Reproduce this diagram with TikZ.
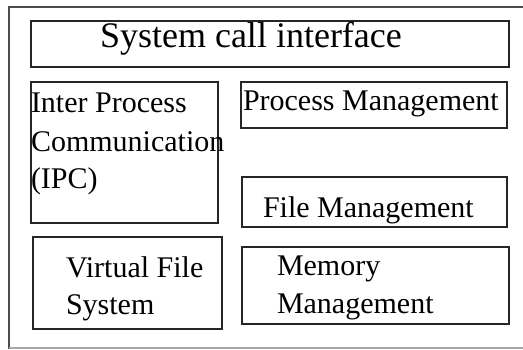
\documentclass[tikz,border=0pt]{standalone}
\usepackage{fontspec}
\setmainfont{Liberation Serif}
% one unit = one pixel, y grows downwards
\newcommand{\pxbox}[5]{%
  \node[box, minimum width={(#4-#2)*0.75pt}, minimum height={(#5-#3)*0.75pt}]
    (#1) at (#2,#3) {};}
\begin{document}
\begin{tikzpicture}[x=0.75pt, y=-0.75pt,
  box/.style={draw=black!85, line width=1.1pt, anchor=north west,
    inner sep=0pt, outer sep=0pt},
  frame/.style={draw=black!70, line width=1.1pt},
  txt/.style={anchor=base west, inner sep=0pt, outer sep=0pt,
    font=\fontsize{22.5pt}{27pt}\selectfont},
  title/.style={anchor=base west, inner sep=0pt, outer sep=0pt,
    font=\fontsize{27pt}{32pt}\selectfont}]
\useasboundingbox (0,0) rectangle (523,349);
% outer frame, open to the right
\coordinate (fa) at (523,7);
\coordinate (fb) at (9,7);
\coordinate (fc) at (9,348);
\coordinate (fd) at (523,348);
\draw[frame] (fa) -- (fb) -- (fc) -- (fd);
\draw[frame, draw=black!35] (fc) -- (fd);
% boxes
\pxbox{sci}{31}{21}{509}{67}
\pxbox{ipc}{31}{82}{218}{223}
\pxbox{pm}{241}{82}{507}{128}
\pxbox{fm}{242}{177}{507}{227}
\pxbox{vfs}{33}{237}{222}{329}
\pxbox{mm}{242}{247}{509}{324}
% labels
\node[title] (tsci) at (100,48) {System call interface};
\node[txt] (tipc1) at (31,113) {Inter Process};
\node[txt] (tipc2) at (31,151) {Communication};
\node[txt] (tipc3) at (31,188) {(IPC)};
\node[txt] (tpm) at (243,111) {Process Management};
\node[txt] (tfm) at (263,217) {File Management};
\node[txt] (tvfs1) at (66,277) {Virtual File};
\node[txt] (tvfs2) at (66,314) {System};
\node[txt] (tmm1) at (277,275) {Memory};
\node[txt] (tmm2) at (277,313) {Management};
\end{tikzpicture}
\end{document}
